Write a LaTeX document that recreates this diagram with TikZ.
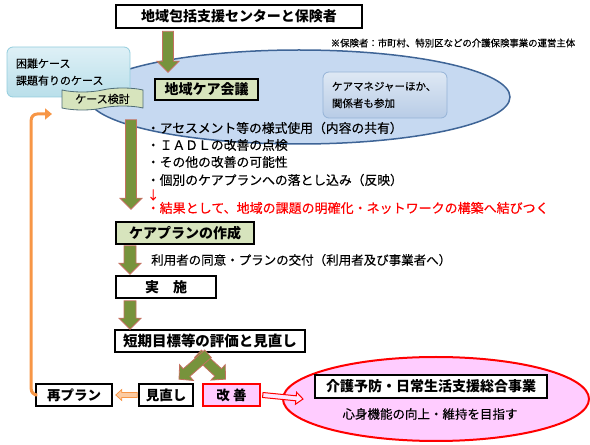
\documentclass[tikz,border=0pt]{standalone}
\usepackage{fontspec}
\setmainfont{Noto Sans CJK JP}[UprightFeatures={FakeBold=0.35}]
\usetikzlibrary{calc,shapes.geometric,shapes.symbols,shadows,arrows.meta}

\definecolor{boxgreen}{RGB}{215,228,189}
\definecolor{arrowgreen}{RGB}{119,147,60}
\definecolor{arrowedge}{RGB}{196,112,96}
\definecolor{meetfill}{RGB}{198,217,241}
\definecolor{meetedge}{RGB}{62,100,150}
\definecolor{partop}{RGB}{222,232,244}
\definecolor{parbot}{RGB}{184,204,230}
\definecolor{paredge}{RGB}{149,179,215}
\definecolor{casetop}{RGB}{222,240,246}
\definecolor{casebot}{RGB}{185,223,234}
\definecolor{caseedge}{RGB}{147,205,221}
\definecolor{tapeedge}{RGB}{80,110,120}
\definecolor{loopcol}{RGB}{247,150,70}
\definecolor{goalpink}{RGB}{255,204,255}

% block arrow: style, from, to, half shaft, half head, head length
\newcommand\fatarrow[6]{%
  \path[#1] let \p1=#2, \p2=#3, \n1={atan2(\y2-\y1,\x2-\x1)}, \n2={veclen(\x2-\x1,\y2-\y1)} in
    [shift={(\p1)},rotate=\n1] (0,-#4) -- ({\n2-#6},-#4) -- ({\n2-#6},-#5) -- (\n2,0)
    -- ({\n2-#6},#5) -- ({\n2-#6},#4) -- (0,#4) -- cycle;}

\begin{document}
\begin{tikzpicture}[x=1pt,y=1pt,
  box/.style={draw=black,line width=1.6pt,fill=white,inner sep=0pt,minimum height=22pt,
    font=\bfseries\fontsize{14}{16}\selectfont,
    drop shadow={shadow xshift=1.2pt,shadow yshift=-1.2pt,opacity=.3}},
  greenbox/.style={box,fill=boxgreen},
  greenarrow/.style={fill=arrowgreen,draw=arrowedge,line width=.8pt},
  bullet/.style={anchor=west,inner sep=0pt,font=\fontsize{12.8}{15}\selectfont},
  roundbox/.style={draw,rounded corners=6pt,line width=.8pt,inner sep=0pt,align=left},
  replanloop/.style={loopcol,line width=3pt,rounded corners=6pt,-{Triangle[width=11pt,length=7pt]}}]
\useasboundingbox (0,0) rectangle (590,445);

% meeting area
\node[ellipse,draw=meetedge,line width=1.5pt,fill=meetfill,minimum width=422pt,minimum height=94pt,inner sep=0pt] (area) at (299,348) {};

% top
\node[box,minimum width=246pt,minimum height=23pt] (center) at (239,428.5) {地域包括支援センターと保険者};
\node[inner sep=0pt,font=\fontsize{9.4}{11}\selectfont] (note) at (453,402) {※保険者：市町村、特別区などの介護保険事業の運営主体};

% cases and meeting
\node[roundbox,draw=caseedge,top color=casetop,bottom color=casebot,minimum width=123pt,minimum height=50pt,
  text width=105pt,font=\fontsize{11}{17}\selectfont] (case) at (68.5,373) {困難ケース\\課題有りのケース};
\node[tape,draw=tapeedge,fill=boxgreen,line width=.8pt,minimum width=81pt,minimum height=22pt,inner sep=0pt,
  tape bend height=4pt,font=\fontsize{11}{13}\selectfont] (review) at (102.5,346) {ケース検討};
\node[greenbox,minimum width=103pt,minimum height=21pt] (kaigi) at (206.5,355.5) {地域ケア会議};
\node[roundbox,draw=paredge,top color=partop,bottom color=parbot,minimum width=124pt,minimum height=46pt,
  text width=106pt,font=\fontsize{10.5}{17}\selectfont] (members) at (385,350) {ケアマネジャーほか、\\関係者も参加};

% points
\foreach \yy/\txt [count=\i] in {317/{・アセスメント等の様式使用（内容の共有）},
    300/{・ＩＡＤＬの改善の点検}, 283/{・その他の改善の可能性},
    265/{・個別のケアプランへの落とし込み（反映）}}
  \node[bullet] (point\i) at (146.7,\yy) {\txt};
\node[bullet,text=red,font=\fontsize{12}{14}\selectfont] (down) at (147,250) {↓};
\node[bullet,text=red,font=\fontsize{13}{15}\selectfont] (result) at (146.5,237) {・結果として、地域の課題の明確化・ネットワークの構築へ結びつく};

% plan cycle
\node[greenbox,minimum width=138pt] (plan) at (185,212) {ケアプランの作成};
\node[inner sep=0pt,anchor=west,font=\fontsize{12.5}{15}\selectfont] (consent) at (151,185) {利用者の同意・プランの交付（利用者及び事業者へ）};
\node[box,minimum width=100pt] (action) at (166,158) {実　施};
\node[box,minimum width=190pt,font=\bfseries\fontsize{14.5}{16}\selectfont] (eval) at (210,104) {短期目標等の評価と見直し};
\node[box,minimum width=76pt,font=\bfseries\fontsize{13.5}{16}\selectfont] (replan) at (74,50) {再プラン};
\node[box,minimum width=54pt,font=\bfseries\fontsize{13.5}{16}\selectfont] (revise) at (166,50) {見直し};
\node[box,fill=goalpink,draw=red,minimum width=57pt,font=\bfseries\fontsize{13.5}{16}\selectfont] (improve) at (231.5,50) {改 善};

% program
\node[ellipse,draw=red,line width=2pt,fill=goalpink,minimum width=306pt,minimum height=84pt,inner sep=0pt] (goal) at (436,46) {};
\node[box,minimum width=232pt,minimum height=23pt] (program) at (431,58.5) {介護予防・日常生活支援総合事業};
\node[inner sep=0pt,font=\fontsize{12.5}{15}\selectfont] (aim) at (430,31) {心身機能の向上・維持を目指す};

% arrows
\fatarrow{greenarrow}{([xshift=-71pt,yshift=-2.5pt]center.south)}{([xshift=-38.5pt,yshift=6pt]kaigi.north)}{5.5}{11}{11}
\fatarrow{greenarrow}{([xshift=-75.5pt,yshift=-19pt]kaigi.south)}{([xshift=-54pt,yshift=12pt]plan.north)}{5.5}{11}{11}
\fatarrow{greenarrow}{([xshift=-55pt,yshift=-1pt]plan.south)}{([xshift=-36pt,yshift=1pt]action.north)}{6}{11}{11}
\fatarrow{greenarrow}{([xshift=-36pt,yshift=-2pt]action.south)}{([xshift=-80pt]eval.north)}{6}{11}{11}
\fatarrow{greenarrow}{([xshift=-12pt,yshift=-1pt]eval.south)}{([xshift=-6pt,yshift=4pt]improve.north)}{5}{10.5}{10}
\fatarrow{greenarrow}{([xshift=-2pt,yshift=-1pt]eval.south)}{([xshift=13pt,yshift=4pt]revise.north)}{5}{10.5}{10}
\fatarrow{fill=loopcol!50,draw=loopcol,line width=.8pt}{([xshift=-1pt]revise.west)}{([xshift=3pt]replan.east)}{2.5}{5.5}{6}
\fatarrow{fill=goalpink!50,draw=red,line width=1pt}{([xshift=2pt]improve.east)}{([xshift=21pt]goal.west)}{2.5}{6}{7}

\coordinate (loopend) at (52,331);
\draw[replanloop] (replan.west) -- ++(-4pt,0) |- (loopend);
\end{tikzpicture}
\end{document}
